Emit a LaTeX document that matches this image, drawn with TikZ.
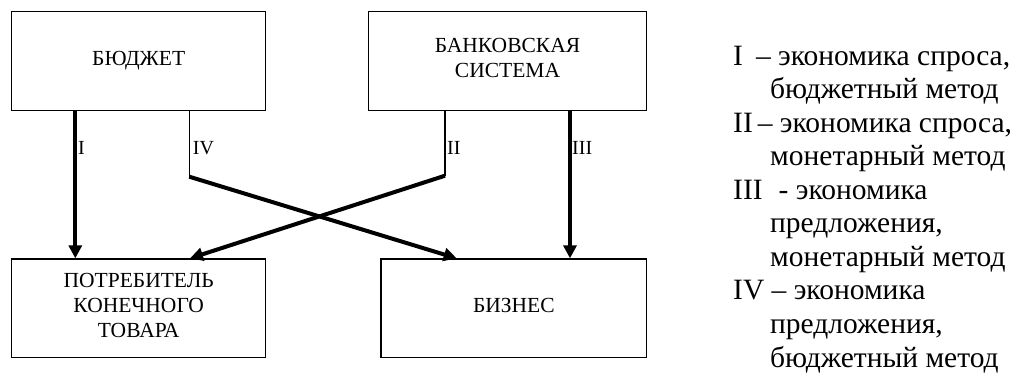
\documentclass[tikz,border=0pt]{standalone}
\usepackage{fontspec}
\setmainfont{LiberationSerif}[Extension=.ttf,UprightFont=*-Regular,BoldFont=*-Bold]
\usetikzlibrary{arrows.meta}

\begin{document}
\begin{tikzpicture}[
    x=1pt,y=-1pt,
    box/.style={draw,line width=1.2pt,inner sep=0pt,align=center,text depth=6pt,
      minimum height=98.5pt,font=\fontsize{21.5}{25}\selectfont},
    thick arrow/.style={line width=4pt,-{Triangle[length=13pt,width=13pt]}},
    thin line/.style={line width=1.2pt},
    flow label/.style={anchor=base west,inner sep=0pt,font=\fontsize{20}{24}\selectfont},
    legend/.style={anchor=base west,inner sep=0pt,font=\fontsize{29.5}{33.5}\selectfont},
    ]
  \useasboundingbox (0,0) rectangle (1018,374);

  \node[box,minimum width=254pt] (budget) at (138.7,61) {БЮДЖЕТ};
  \node[box,minimum width=278.4pt] (bank) at (507.5,61) {БАНКОВСКАЯ\\СИСТЕМА};
  \node[box,minimum width=254pt] (consumer) at (138.7,308.2) {ПОТРЕБИТЕЛЬ\\КОНЕЧНОГО\\ТОВАРА};
  \node[box,minimum width=265.7pt] (business) at (513.85,308.2) {БИЗНЕС};

  \coordinate (bendIV) at (189.3,176.7);
  \coordinate (bendII) at (445,175.7);

  \draw[thick arrow] ([xshift=-63.4pt]budget.south) -- ([xshift=-63.4pt]consumer.north);
  \draw[thin line] ([xshift=50.6pt]budget.south) -- (bendIV);
  \draw[thick arrow] (bendIV) -- ([xshift=-57.15pt]business.north);
  \draw[thin line] ([xshift=-62.5pt]bank.south) -- (bendII);
  \draw[thick arrow] (bendII) -- ([xshift=51.3pt]consumer.north);
  \draw[thick arrow] ([xshift=62.5pt]bank.south) -- ([xshift=56.15pt]business.north);

  \node[flow label] (labelI) at (78,155) {I};
  \node[flow label] (labelIV) at (192.7,155) {IV};
  \node[flow label] (labelII) at (447,155) {II};
  \node[flow label] (labelIII) at (572,155) {III};

  \node[legend] (leg1) at (733,65.5) {I\hspace{13pt}– экономика спроса,};
  \node[legend] (leg2) at (770,99) {бюджетный метод};
  \node[legend] (leg3) at (733,132.5) {II\hspace{5pt}– экономика спроса,};
  \node[legend] (leg4) at (770,166) {монетарный метод};
  \node[legend] (leg5) at (733,199.5) {III\hspace{16pt}- экономика};
  \node[legend] (leg6) at (770,233) {предложения,};
  \node[legend] (leg7) at (770,266.5) {монетарный метод};
  \node[legend] (leg8) at (733,300) {IV – экономика};
  \node[legend] (leg9) at (770,333.5) {предложения,};
  \node[legend] (leg10) at (770,367) {бюджетный метод};
\end{tikzpicture}
\end{document}
